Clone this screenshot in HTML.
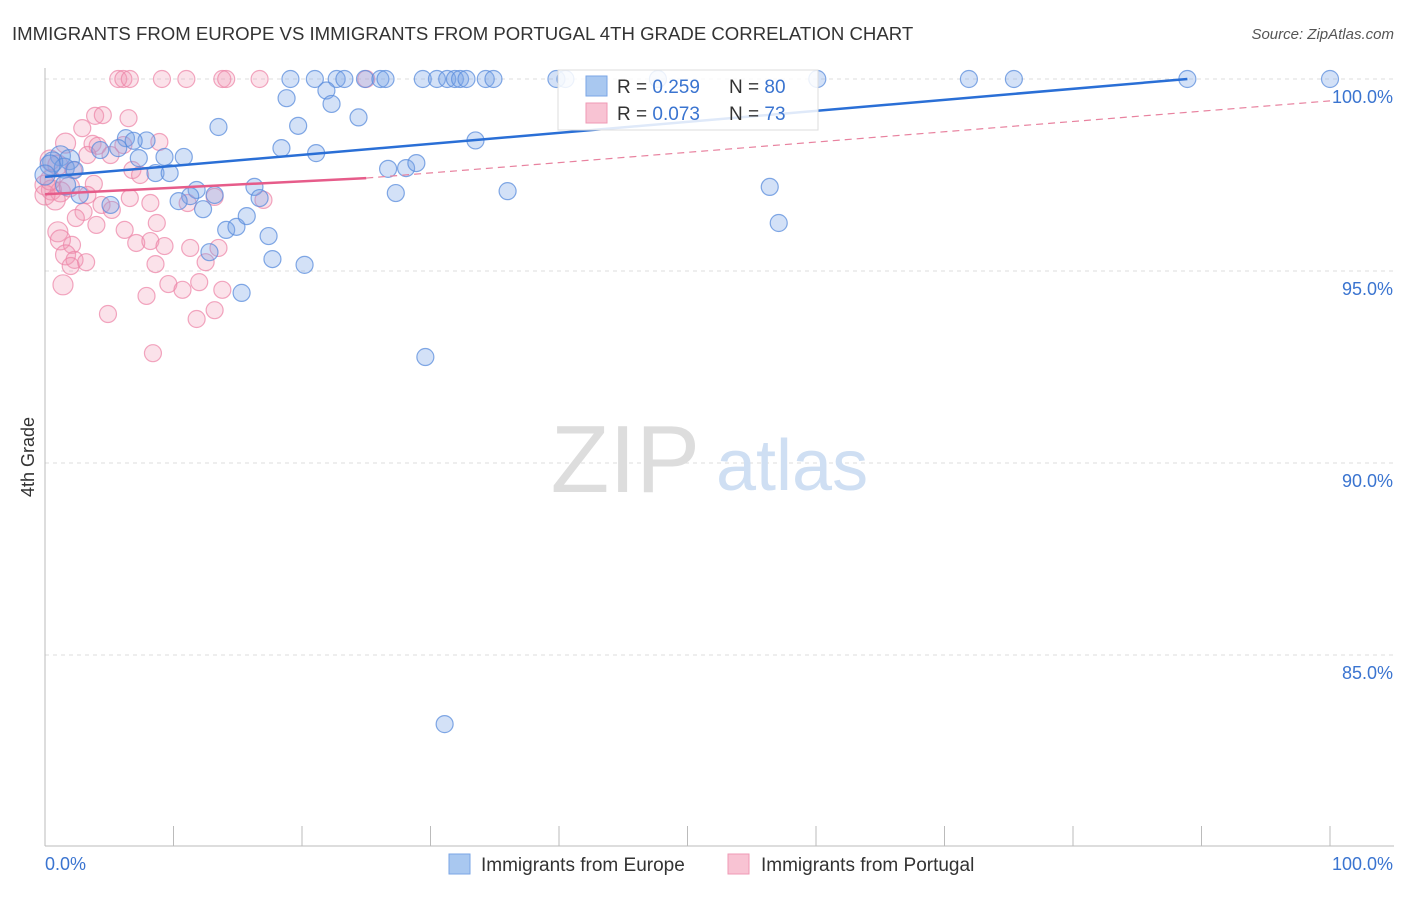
<!DOCTYPE html>
<html><head><meta charset="utf-8">
<style>
body{margin:0;background:#fff;font-family:"Liberation Sans",sans-serif;}
svg text{font-family:"Liberation Sans",sans-serif;}
</style></head>
<body>
<svg id="chart" width="1406" height="892" viewBox="0 0 1406 892" xmlns="http://www.w3.org/2000/svg">
<text x="12" y="40" font-size="18.6" fill="#333">IMMIGRANTS FROM EUROPE VS IMMIGRANTS FROM PORTUGAL 4TH GRADE CORRELATION CHART</text>
<text x="1394" y="39" font-size="15" fill="#555" text-anchor="end" font-style="italic">Source: ZipAtlas.com</text>
<g id="grid"></g>
<text x="700" y="492" font-size="96" fill="#ddd" text-anchor="end" font-family="Liberation Serif">ZIP</text>
<text x="716" y="490" font-size="72" fill="#cfdff3">atlas</text>
<g id="axes"></g>
<g id="pts"></g>
<g id="trends"></g>
<text transform="translate(34,457) rotate(-90)" font-size="18" fill="#333" text-anchor="middle">4th Grade</text>
<g>
<rect x="558" y="70" width="260" height="60" fill="#fff" fill-opacity="0.85" stroke="#ddd"/>
<rect x="586" y="76" width="21" height="20" fill="#a9c8f0" stroke="#7aa6e6"/>
<rect x="586" y="103" width="21" height="20" fill="#f8c3d3" stroke="#ef9ab5"/>
<text x="617" y="93" font-size="19" fill="#333">R = <tspan fill="#3a74d0">0.259</tspan><tspan x="729">N = </tspan><tspan fill="#3a74d0">80</tspan></text>
<text x="617" y="120" font-size="19" fill="#333">R = <tspan fill="#3a74d0">0.073</tspan><tspan x="729">N = </tspan><tspan fill="#3a74d0">73</tspan></text>
</g>
<g>
<rect x="449" y="854" width="21" height="20" fill="#a9c8f0" stroke="#7aa6e6"/>
<text x="481" y="871" font-size="19" fill="#333">Immigrants from Europe</text>
<rect x="728" y="854" width="21" height="20" fill="#f8c3d3" stroke="#ef9ab5"/>
<text x="761" y="871" font-size="19" fill="#333">Immigrants from Portugal</text>
</g>
</svg>
<script>
const yTicks=[100,95,90,85];
const yTickLabels=["100.0%","95.0%","90.0%","85.0%"];
const xTickLabels=["0.0%","100.0%"];
const blueX=[19.1,21.0,22.7,23.3,24.9,26.1,26.5,29.4,30.5,31.3,31.9,32.3,32.8,34.3,34.9,39.8,40.5,47.7,60.1,71.9,75.4,88.9,100,
18.8,21.9,22.3,24.4,13.5,19.7,33.5,6.3,7.9,6.9,5.7,4.3,18.4,21.1,1.2,1.9,7.3,9.3,10.8,0.6,1.5,2.3,8.6,9.7,26.7,28.1,28.9,16.3,11.8,13.2,11.3,10.4,12.3,5.1,14.1,14.9,15.7,16.7,27.3,36.0,56.4,57.1,17.4,12.8,17.7,20.2,15.3,29.6,31.1,0.4,0,1.6,2.7];
const blueY=[100,100,100,100,100,100,100,100,100,100,100,100,100,100,100,100,100,100,100,100,100,100,100,
99.5,99.7,99.35,99.0,98.75,98.78,98.4,98.46,98.4,98.39,98.2,98.15,98.2,98.07,98.0,97.9,97.94,97.97,97.97,97.84,97.68,97.63,97.55,97.55,97.66,97.68,97.81,97.19,97.11,96.98,96.95,96.82,96.61,96.72,96.07,96.15,96.43,96.9,97.03,97.08,97.19,96.25,95.91,95.49,95.31,95.16,94.43,92.76,83.2,97.76,97.5,97.24,96.98];
const pinkX=[5.7,6.1,6.6,9.1,11.0,13.8,14.1,16.7,25.0,3.9,4.5,6.5,2.9,1.6,3.7,6.1,4.1,8.9,3.3,0.4,1.0,2.2,6.8,7.4,0,0.5,1.2,1.9,3.8,3.3,4.4,5.2,8.2,6.6,11.1,17.0,13.2,3.0,2.4,4.0,1.0,6.2,8.7,1.2,2.1,7.1,8.2,9.3,11.3,13.5,1.6,2.3,3.2,2.0,8.6,12.5,1.4,7.9,9.6,10.7,12.0,13.8,4.9,11.8,13.2,8.4,0,0.4,0.8,5.1];
const pinkY=[100,100,100,100,100,100,100,100,100,99.04,99.06,98.98,98.72,98.33,98.31,98.28,98.26,98.36,98.02,97.89,97.76,97.63,97.63,97.5,97.24,97.11,97.06,97.19,97.27,96.98,96.72,96.59,96.77,96.9,96.77,96.85,96.93,96.54,96.38,96.2,96.02,96.07,96.25,95.81,95.68,95.73,95.78,95.65,95.6,95.6,95.42,95.29,95.23,95.13,95.18,95.23,94.64,94.35,94.66,94.51,94.71,94.51,93.88,93.75,93.98,92.86,96.98,97.37,96.85,98.02];
const blueTrend=[[0,97.45],[88.9,100]];
const pinkTrendSolid=[[0,97.0],[25,97.42]];
const pinkTrendDash=[[25,97.42],[100,99.43]];

const NS="http://www.w3.org/2000/svg";
const X0=45,X1=1330,YT=79,PX_PER=38.4;
function sx(v){return X0+(X1-X0)*v/100;}
function sy(v){return YT+(100-v)*PX_PER;}
function mk(tag,attrs,parent){const e=document.createElementNS(NS,tag);for(const k in attrs)e.setAttribute(k,attrs[k]);parent.appendChild(e);return e;}
const grid=document.getElementById('grid'),axes=document.getElementById('axes');
yTicks.forEach((t,i)=>{
  const l=mk('line',{x1:X0,x2:1394,y1:sy(t),y2:sy(t),stroke:'#ddd','stroke-dasharray':'4,4'},grid);
  
  
  const tx=mk('text',{x:1393,y:sy(t)+24,'font-size':18,fill:'#3a74d0','text-anchor':'end'},axes);
  tx.textContent=yTickLabels[i];
  
  
});
mk('line',{x1:X0,x2:X0,y1:68,y2:846,stroke:'#bbb'},axes);
mk('line',{x1:X0,x2:1394,y1:846,y2:846,stroke:'#bbb'},axes);
for(let i=0;i<=10;i++){const x=X0+i*128.5;mk('line',{x1:x,x2:x,y1:826,y2:846,stroke:'#bbb'},axes);}
const xl0=mk('text',{x:45,y:870,'font-size':18,fill:'#3a74d0'},axes);xl0.textContent=xTickLabels[0];


const xl1=mk('text',{x:1393,y:870,'font-size':18,fill:'#3a74d0','text-anchor':'end'},axes);xl1.textContent=xTickLabels[1];


const pts=document.getElementById('pts');
function drawPts(xs,ys,fill,stroke,name){
  xs.forEach((x,i)=>{
    const r=(x<2)?10:8.5;
    const c=mk('circle',{cx:sx(x),cy:sy(ys[i]),r:r,fill:fill,stroke:stroke,'stroke-width':1.2},pts);
    
    
  });
}
drawPts(pinkX,pinkY,'rgba(242,150,180,0.28)','rgba(236,130,165,0.7)','point-portugal');
drawPts(blueX,blueY,'rgba(120,165,230,0.33)','rgba(90,140,220,0.75)','point-europe');
const tr=document.getElementById('trends');
const b=mk('line',{x1:sx(blueTrend[0][0]),y1:sy(blueTrend[0][1]),x2:sx(blueTrend[1][0]),y2:sy(blueTrend[1][1]),stroke:'#2a6fd6','stroke-width':2.5},tr);


const pd=mk('line',{x1:sx(pinkTrendDash[0][0]),y1:sy(pinkTrendDash[0][1]),x2:sx(pinkTrendDash[1][0]),y2:sy(pinkTrendDash[1][1]),stroke:'#e8829f','stroke-width':1.2,'stroke-dasharray':'7,5'},tr);


const ps=mk('line',{x1:sx(pinkTrendSolid[0][0]),y1:sy(pinkTrendSolid[0][1]),x2:sx(pinkTrendSolid[1][0]),y2:sy(pinkTrendSolid[1][1]),stroke:'#e65c8a','stroke-width':2.5},tr);


</script>
</body></html>
